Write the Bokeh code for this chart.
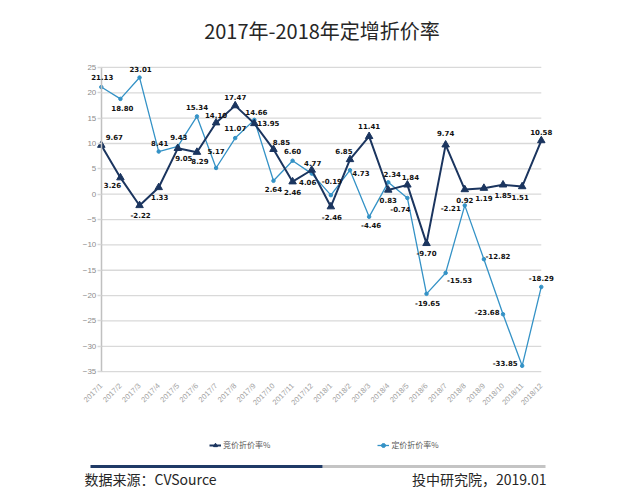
import math
from bokeh.plotting import figure
from bokeh.models import (Range1d, FixedTicker, LabelSet, ColumnDataSource, Label,
                          Legend, LegendItem, BoxAnnotation)
from bokeh.core.properties import value
from bokeh.embed import file_html
from bokeh.resources import INLINE

# ---------------- data ----------------
MONTHS = ["2017/1", "2017/2", "2017/3", "2017/4", "2017/5", "2017/6", "2017/7", "2017/8",
          "2017/9", "2017/10", "2017/11", "2017/12", "2018/1", "2018/2", "2018/3", "2018/4",
          "2018/5", "2018/6", "2018/7", "2018/8", "2018/9", "2018/10", "2018/11", "2018/12"]
BID_RATE = [9.67, 3.26, -2.22, 1.33, 9.05, 8.29, 14.10, 17.47, 13.95, 8.85, 2.46, 4.77,
            -2.46, 6.85, 11.41, 0.83, 1.84, -9.70, 9.74, 0.92, 1.19, 1.85, 1.51, 10.58]
PRICED_RATE = [21.13, 18.80, 23.01, 8.41, 9.43, 15.34, 5.17, 11.07, 14.66, 2.64, 6.60, 4.06,
               -0.19, 4.73, -4.46, 2.34, -0.74, -19.65, -15.53, -2.21, -12.82, -23.68, -33.85, -18.29]
Y_TICKS = [-35, -30, -25, -20, -15, -10, -5, 0, 5, 10, 15, 20, 25]
SERIES_NAMES = ["竞价折价率%", "定价折价率%"]
TITLE = "2017年-2018年定增折价率"
SOURCE = "数据来源：CVSource"
CREDIT = "投中研究院，2019.01"

# label offsets in pixels (dx right, dy down) -- styling only
BID_OFF = [(13, -8), (-8, 7), (1, 10), (1, 10), (6, 10), (3, 9), (0, -8), (0, -9),
           (14, 0), (8, -7), (0, 10), (1, -7), (1, 10), (-6, -8), (0, -10), (0, 10),
           (3, -8), (0, 10), (0, -12), (0, 10), (0, 10), (0, 10), (-2, 10), (0, -9)]
PRICED_OFF = [(1, -10), (2, 9), (1, -9), (1, -9), (1, -9), (0, -9), (0, -17), (0, -10),
              (2, -8), (0, 8), (0, -10), (-4, 8), (1, -14), (11, 3), (2, 8), (4, -8),
              (-7, 11), (1, 9), (14, 7), (-14, 3), (14, -3), (-16, -2), (-17, -3), (0, -9)]

DARK = "#1B355F"
LIGHT = "#3492C6"
GRID = "#d9d9d9"

W, H = 640, 501
n = len(MONTHS)
ymin, ymax = min(Y_TICKS), max(Y_TICKS)
# layout: page pixel of first category / zero line and pixels per unit
X0, UX = 100.8, 19.13
Y0, UY = 193.7, 5.07

def px2x(px):
    return (px - X0) / UX

def px2y(py):
    return (Y0 - py) / UY

p = figure(width=W, height=H, output_backend="svg", toolbar_location=None,
           x_range=Range1d(px2x(0), px2x(W)), y_range=Range1d(px2y(H), px2y(0)),
           min_border_left=0, min_border_right=0, min_border_top=0, min_border_bottom=0)
p.outline_line_color = None
p.xgrid.visible = False
p.ygrid.visible = False

# value axis drawn at the first category
p.yaxis.fixed_location = 0
p.yaxis.bounds = (ymin, ymax)
p.yaxis.ticker = FixedTicker(ticks=Y_TICKS)
p.yaxis.axis_line_color = "#c0c0c0"
p.yaxis.axis_line_width = 1.5
p.yaxis.major_tick_line_color = GRID
p.yaxis.major_tick_line_width = 1.3
p.yaxis.major_tick_out = 4
p.yaxis.major_tick_in = 0
p.yaxis.minor_tick_line_color = None
p.yaxis.major_label_standoff = 1
p.yaxis.major_label_text_font = "Liberation Sans"
p.yaxis.major_label_text_font_size = "8px"
p.yaxis.major_label_text_color = "#8c8c8c"

# category axis drawn at the lowest tick
xs = list(range(n))
p.xaxis.fixed_location = ymin
p.xaxis.bounds = (0, n - 1)
p.xaxis.ticker = FixedTicker(ticks=xs)
p.xaxis.major_label_overrides = {i: m for i, m in enumerate(MONTHS)}
p.xaxis.major_label_orientation = math.pi / 4
p.xaxis.axis_line_color = None
p.xaxis.major_tick_line_color = None
p.xaxis.minor_tick_line_color = None
p.xaxis.major_label_standoff = 7
p.xaxis.major_label_text_font = "Liberation Sans"
p.xaxis.major_label_text_font_size = "7.5px"
p.xaxis.major_label_text_color = "#a0a0a0"

# horizontal gridlines from the tick list, spanning the categories
p.segment(x0=[0] * len(Y_TICKS), x1=[n - 1] * len(Y_TICKS), y0=Y_TICKS, y1=Y_TICKS,
          line_color=GRID, line_width=1.3, level="underlay")

src = ColumnDataSource(dict(x=xs, bid=BID_RATE, priced=PRICED_RATE))
l_line = p.line("x", "priced", source=src, line_color=LIGHT, line_width=1.3)
l_pts = p.scatter("x", "priced", source=src, marker="circle", size=3.5,
                  fill_color=LIGHT, line_color=LIGHT)
d_line = p.line("x", "bid", source=src, line_color=DARK, line_width=2)
d_pts = p.scatter("x", "bid", source=src, marker="triangle", size=7.5,
                  fill_color=DARK, line_color=DARK)

for vals, offs in ((BID_RATE, BID_OFF), (PRICED_RATE, PRICED_OFF)):
    ls = ColumnDataSource(dict(x=xs, y=vals, t=["%.2f" % v for v in vals],
                               dx=[o[0] for o in offs], dy=[-o[1] for o in offs]))
    p.add_layout(LabelSet(x="x", y="y", text="t", source=ls, x_offset="dx", y_offset="dy",
                          text_align="center", text_baseline="middle",
                          text_font=value("DejaVu Sans"), text_font_style="bold",
                          text_font_size="7px", text_color="#111111"))

# legend below the chart
legend = Legend(items=[LegendItem(label=SERIES_NAMES[0], renderers=[d_line, d_pts]),
                       LegendItem(label=SERIES_NAMES[1], renderers=[l_line, l_pts])],
                orientation="horizontal", location=(209, H - 450),
                glyph_width=12, glyph_height=10, label_height=10, label_standoff=2,
                spacing=107, padding=0, margin=0, border_line_color=None,
                background_fill_alpha=0, label_text_font="Noto Sans CJK SC",
                label_text_font_size="8px", label_text_color="#595959")
p.add_layout(legend, "center")

# title
p.add_layout(Label(x=px2x(321.5), y=px2y(30), text=TITLE, text_align="center",
                   text_baseline="middle", text_font="Noto Sans CJK SC",
                   text_font_size="20px", text_color="#262626"))

# footer rule and texts
p.add_layout(BoxAnnotation(left=px2x(322), right=px2x(545), top=px2y(464.5), bottom=px2y(467.5),
                           fill_color="#c4c4c4", fill_alpha=1, line_color=None, level="overlay"))
p.add_layout(BoxAnnotation(left=px2x(90), right=px2x(322), top=px2y(464.5), bottom=px2y(467.5),
                           fill_color="#1F3A66", fill_alpha=1, line_color=None, level="overlay"))
p.add_layout(Label(x=px2x(84), y=px2y(478.5), text=SOURCE, text_align="left",
                   text_baseline="middle", text_font="Noto Sans CJK SC",
                   text_font_size="14px", text_color="#262626"))
p.add_layout(Label(x=px2x(546), y=px2y(478.5), text=CREDIT, text_align="right",
                   text_baseline="middle", text_font="Noto Sans CJK SC",
                   text_font_size="14px", text_color="#262626"))

open("out.html", "w").write(file_html(p, INLINE))
